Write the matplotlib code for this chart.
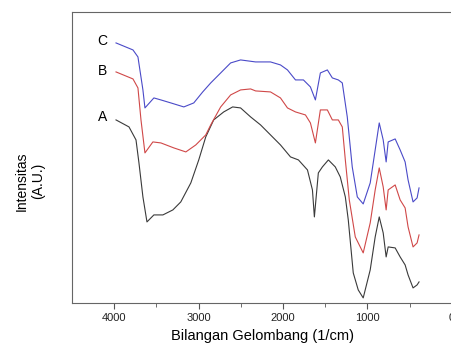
import matplotlib
matplotlib.use("Agg")
import matplotlib.pyplot as plt

plt.rcParams['font.family'] = ['Liberation Sans', 'DejaVu Sans']

# FTIR spectra (wavenumber 1/cm, arbitrary intensity)
wn_c = [3980, 3779, 3720, 3661, 3637, 3531, 3448, 3330, 3176, 3058, 2952, 2857, 2739,
        2621, 2503, 2325, 2148, 2030, 1947, 1852, 1758, 1675, 1616, 1557, 1474, 1415,
        1344, 1297, 1238, 1179, 1119, 1049, 966, 907, 859, 812, 777, 753, 670, 611,
        552, 517, 458, 410, 387]
int_c = [260, 253, 246, 213, 195, 205, 203, 200, 196, 200, 211, 220, 230,
         240, 243, 241, 241, 238, 233, 223, 223, 216, 203, 230, 233, 225,
         223, 220, 186, 136, 106, 99, 120, 153, 180, 163, 141, 161, 164, 153,
         141, 123, 101, 105, 115]

wn_b = [3980, 3779, 3720, 3684, 3637, 3543, 3448, 3294, 3152, 3034, 2916, 2857, 2739,
        2621, 2503, 2384, 2325, 2148, 2030, 1947, 1852, 1734, 1675, 1616, 1557, 1474,
        1415, 1344, 1297, 1261, 1214, 1143, 1049, 966, 907, 859, 812, 777, 753, 670,
        611, 552, 517, 458, 410, 387]
int_b = [231, 224, 215, 183, 150, 161, 160, 155, 151, 158, 168, 178, 196,
         208, 213, 214, 212, 211, 205, 195, 191, 188, 180, 160, 193, 193,
         183, 183, 176, 143, 103, 66, 50, 80, 113, 135, 116, 93, 113, 118,
         103, 95, 76, 56, 60, 68]

wn_a = [3980, 3826, 3743, 3708, 3661, 3613, 3531, 3424, 3306, 3212, 3093, 2999, 2916,
        2822, 2703, 2597, 2503, 2384, 2266, 2148, 2030, 1911, 1817, 1710, 1651, 1628,
        1581, 1533, 1462, 1380, 1321, 1261, 1226, 1167, 1108, 1049, 966, 907, 859,
        812, 777, 753, 670, 611, 552, 517, 458, 410, 387]
int_a = [183, 176, 163, 140, 106, 81, 88, 88, 93, 101, 120, 143, 166,
         183, 191, 196, 195, 186, 178, 168, 158, 146, 143, 133, 113, 86,
         130, 136, 143, 136, 126, 106, 83, 30, 13, 5, 33, 66, 86,
         70, 46, 56, 55, 46, 38, 28, 15, 18, 21]

fig = plt.figure(figsize=(4.51, 3.51), dpi=100)
ax = fig.add_axes([0.16, 0.137, 0.935, 0.829])

ax.plot(wn_a, int_a, c="#3a3a3a", linewidth=0.8)
ax.plot(wn_b, int_b, c="#d04848", linewidth=0.8)
ax.plot(wn_c, int_c, c="#4a4ac8", linewidth=0.8)

ax.text(4145, 186, "A", fontsize=10, ha="center", va="center")
ax.text(4145, 232, "B", fontsize=10, ha="center", va="center")
ax.text(4145, 262, "C", fontsize=10, ha="center", va="center")

ax.set_xlim(4500, -500)
ax.set_ylim(0, 291)
ax.set_xticks([4000, 3000, 2000, 1000, 0])
ax.set_xticks([3500, 2500, 1500, 500], minor=True)
ax.set_yticks([])
ax.tick_params(axis="x", labelsize=8, length=4, color="#555555", labelcolor="#222222")
ax.tick_params(axis="x", which="minor", length=3, color="#555555")
for s in ax.spines.values():
    s.set_color("#666666")

fig.text(0.581, 0.042, "Bilangan Gelombang (1/cm)", fontsize=10.5, ha="center", va="center")
fig.text(0.066, 0.484, "Intensitas\n(A.U.)", fontsize=10, ha="center", va="center",
         rotation=90, multialignment="center")

fig.savefig("out.png", dpi=100)
